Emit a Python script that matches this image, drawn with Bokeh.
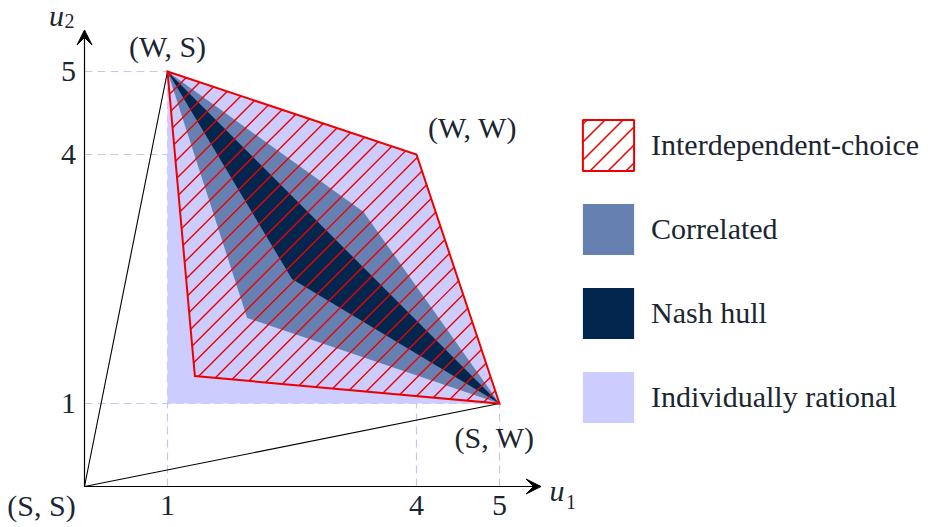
import base64
from bokeh.plotting import figure
from bokeh.models import (Range1d, Arrow, VeeHead, Legend, LegendItem, ColumnDataSource,
                          ImageURLTexture)
from bokeh.core.properties import value
from bokeh.embed import file_html
from bokeh.resources import INLINE

# ---- data ----
outcome_labels = ["(S, S)", "(W, S)", "(W, W)", "(S, W)"]
outcome_u1 = [0, 1, 4, 5]
outcome_u2 = [0, 5, 4, 1]

x_ticks = [1, 4, 5]
y_ticks = [1, 4, 5]

ir_u1 = [1, 1, 4, 5]
ir_u2 = [1, 5, 4, 1]

corr_u1 = [1, 3.36, 5, 1.96]
corr_u2 = [5, 3.31, 1, 2.03]

nash_u1 = [1, 2.5, 5]
nash_u2 = [5, 2.5, 1]

ic_u1 = [1, 4, 5, 1.33]
ic_u2 = [5, 4, 1, 1.33]

axis_len = 5.5

# ---- layout ----
W, H = 933, 527
PX = 83.0          # pixels per unit
ox, oy = 84, 486   # origin position in canvas pixels (left, from top)

FONT_NAME = "Liberation Serif"
FONT = value(FONT_NAME)
TXT = "#1b2631"
FS = "30px"
RED = "#ee0000"


def hatch_segments(xs, ys, step):
    """45-degree lines (x - y = k) clipped to a convex polygon."""
    n = len(xs)
    area = sum(xs[i] * ys[(i + 1) % n] - xs[(i + 1) % n] * ys[i] for i in range(n))
    sgn = 1 if area > 0 else -1
    ks = [x - y for x, y in zip(xs, ys)]
    kmin, kmax = min(ks), max(ks)
    x0s, y0s, x1s, y1s = [], [], [], []
    k = kmin + step * 0.35
    while k < kmax:
        t0, t1 = -1e9, 1e9
        ok = True
        for i in range(n):
            ax, ay = xs[i], ys[i]
            bx, by = xs[(i + 1) % n], ys[(i + 1) % n]
            ex, ey = bx - ax, by - ay
            nx, ny = -ey * sgn, ex * sgn
            num = nx * (k - ax) + ny * (0 - ay)
            den = nx + ny
            if abs(den) < 1e-12:
                if num < 0:
                    ok = False
                continue
            t = -num / den
            if den > 0:
                t0 = max(t0, t)
            else:
                t1 = min(t1, t)
        if ok and t1 > t0:
            x0s.append(k + t0); y0s.append(t0)
            x1s.append(k + t1); y1s.append(t1)
        k += step
    return x0s, y0s, x1s, y1s


p = figure(width=W, height=H, output_backend="svg", toolbar_location=None,
           x_range=Range1d(-ox / PX, (W - ox) / PX),
           y_range=Range1d(-(H - oy) / PX, oy / PX),
           min_border=0, outline_line_color=None,
           x_axis_location=None, y_axis_location=None)
p.grid.visible = False
p.background_fill_color = "white"

# dashed guide lines
dash_col = "#c8c8e6"
p.segment(x0=[0] * len(outcome_u1[1:]), y0=outcome_u2[1:], x1=outcome_u1[1:], y1=outcome_u2[1:],
          line_color=dash_col, line_width=1.2, line_dash="8 5")
p.segment(x0=outcome_u1[1:], y0=[0] * len(outcome_u1[1:]), x1=outcome_u1[1:], y1=outcome_u2[1:],
          line_color=dash_col, line_width=1.2, line_dash="8 5")

# black lines from (S,S)
for i in (1, 3):
    p.line([outcome_u1[0], outcome_u1[i]], [outcome_u2[0], outcome_u2[i]],
           line_color="black", line_width=1.1)

r_ir = p.patch(ir_u1, ir_u2, fill_color="#ccccff", line_color=None)
r_corr = p.patch(corr_u1, corr_u2, fill_color="#6680b2", line_color=None)
r_nash = p.patch(nash_u1, nash_u2, fill_color="#02264d", line_color=None)

# interdependent-choice: hatch lines + outline
hx0, hy0, hx1, hy1 = hatch_segments(ic_u1, ic_u2, 18.3 / PX)
p.segment(x0=hx0, y0=hy0, x1=hx1, y1=hy1, line_color=RED, line_width=1.4)
p.patch(ic_u1, ic_u2, fill_alpha=0, line_color=RED, line_width=2, line_join="miter")

# legend-only renderer: 45-degree hatch tile as an image texture
tile_svg = ("<svg xmlns='http://www.w3.org/2000/svg' width='18' height='18'>"
            "<path d='M0 18 L18 0 M-9 9 L9 -9 M9 27 L27 9' stroke='%s' "
            "stroke-width='1.5' fill='none'/></svg>" % RED)
tile_uri = "data:image/svg+xml;base64," + base64.b64encode(tile_svg.encode()).decode()
ne_tex = ImageURLTexture(url=tile_uri)
r_ic_leg = p.patch(ic_u1, ic_u2, fill_alpha=0, hatch_pattern="ne", hatch_extra={"ne": ne_tex},
                   hatch_color=RED, hatch_scale=18, hatch_weight=1.4,
                   line_color=RED, line_width=2, visible=False)

# axes arrows
p.add_layout(Arrow(end=VeeHead(size=15, fill_color="black", line_color="black"),
                   x_start=0, y_start=0, x_end=axis_len, y_end=0, line_width=1.2))
p.add_layout(Arrow(end=VeeHead(size=15, fill_color="black", line_color="black"),
                   x_start=0, y_start=0, x_end=0, y_end=axis_len, line_width=1.2))

# axis labels u_1, u_2
p.text(x=[axis_len], y=[0], text=["u"], x_offset=[16], y_offset=[4],
       text_font=FONT, text_font_style="italic", text_font_size=FS, text_color=TXT,
       text_align="center", text_baseline="middle")
p.text(x=[axis_len], y=[0], text=["1"], x_offset=[30], y_offset=[15],
       text_font=FONT, text_font_size="20px", text_color=TXT,
       text_align="center", text_baseline="middle")
p.text(x=[0], y=[axis_len], text=["u"], x_offset=[-28], y_offset=[-15],
       text_font=FONT, text_font_style="italic", text_font_size=FS, text_color=TXT,
       text_align="center", text_baseline="middle")
p.text(x=[0], y=[axis_len], text=["2"], x_offset=[-15], y_offset=[-9],
       text_font=FONT, text_font_size="20px", text_color=TXT,
       text_align="center", text_baseline="middle")

# tick labels
p.text(x=x_ticks, y=[0] * len(x_ticks), text=[str(t) for t in x_ticks], y_offset=19,
       text_font=FONT, text_font_size=FS, text_color=TXT,
       text_align="center", text_baseline="middle")
p.text(x=[0] * len(y_ticks), y=y_ticks, text=[str(t) for t in y_ticks], x_offset=-16,
       text_font=FONT, text_font_size=FS, text_color=TXT,
       text_align="center", text_baseline="middle")

# outcome labels
lab_dx = [-43, 0, 56, -5]
lab_dy = [19, -25, -27, 34]
src = ColumnDataSource(dict(x=outcome_u1, y=outcome_u2, t=outcome_labels, dx=lab_dx, dy=lab_dy))
p.text(x="x", y="y", text="t", x_offset="dx", y_offset="dy", source=src,
       text_font=FONT, text_font_size=FS, text_color=TXT,
       text_align="center", text_baseline="middle")

legend = Legend(items=[LegendItem(label="Interdependent-choice", renderers=[r_ic_leg]),
                       LegendItem(label="Correlated", renderers=[r_corr]),
                       LegendItem(label="Nash hull", renderers=[r_nash]),
                       LegendItem(label="Individually rational", renderers=[r_ir])],
                location=(576, 98), glyph_width=64, glyph_height=64, spacing=20,
                label_standoff=11, label_text_font=FONT_NAME, label_text_font_size=FS,
                label_text_color=TXT, padding=0, margin=0, border_line_color=None,
                background_fill_alpha=0)
p.add_layout(legend)

open("out.html", "w").write(file_html(p, INLINE))
